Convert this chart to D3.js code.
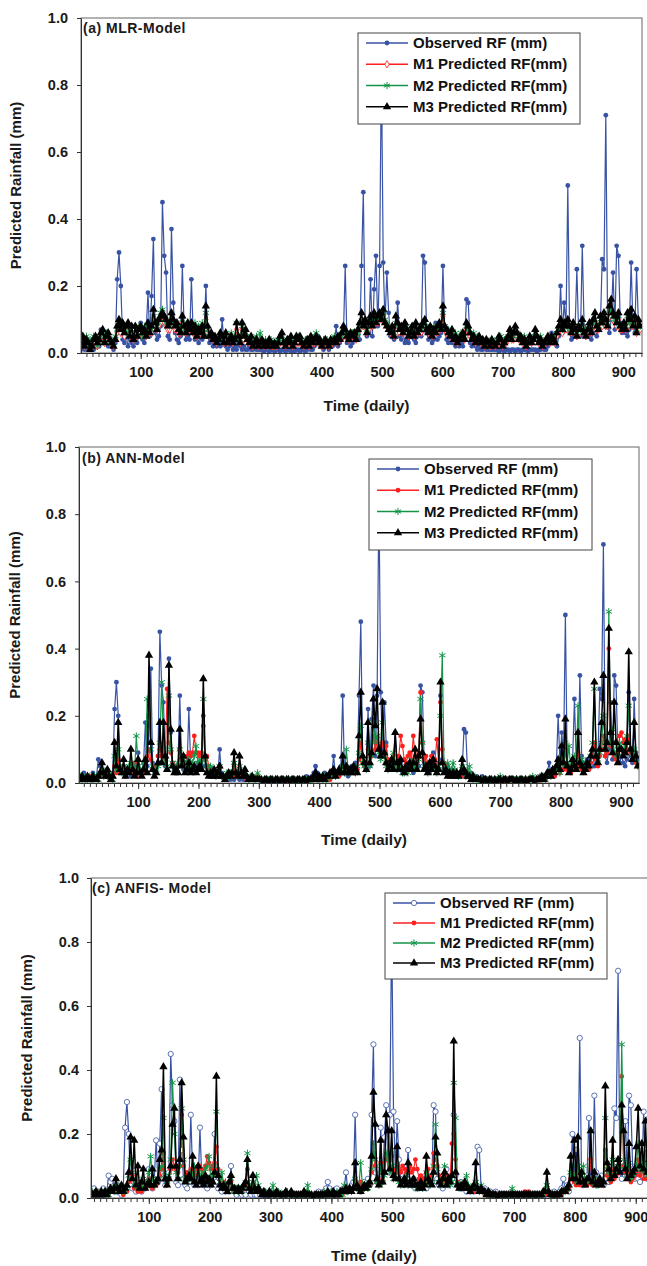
<!DOCTYPE html>
<html>
<head>
<meta charset="utf-8">
<script src="https://cdn.jsdelivr.net/npm/d3@7"></script>
<style>
body { margin: 0; background: #fff; }
text { font-family: "Liberation Sans", Arial, sans-serif; font-weight: bold; }
</style>
</head>
<body>
<script>
//rainfall values in 0.01 mm, one reading every 3 days (day 1, 4, 7 ... 928)
var observed = [
1,2,1,3,2,1,2,1,3,2, 2,7,5,6,3,2,4,2,1,3, 22,30,20,4,3,5,2,4,3,2, 4,3,5,9,4,3,6,18,5,17,
34,6,4,5,8,45,29,24,5,4, 37,15,6,4,3,5,26,7,4,5, 4,22,6,4,5,3,6,4,5,20, 5,3,4,2,3,2,3,2,10,3,
2,1,2,3,1,2,1,3,2,1, 2,1,1,2,1,1,2,1,1,1, 1,0,1,1,0,1,1,0,1,1, 0,1,1,0,1,1,0,1,0,1,
1,0,1,1,0,1,2,1,1,2, 3,5,3,2,1,2,3,1,2,2, 3,8,2,3,4,5,26,3,4,2, 3,5,4,6,4,26,48,8,5,6,
22,5,19,29,8,26,86,27,9,24, 12,5,6,4,7,15,5,4,6,3, 4,3,5,6,4,3,5,6,5,29, 27,6,4,5,3,4,9,4,5,6,
26,7,4,3,5,3,4,2,3,2, 3,2,4,16,15,3,2,3,2,1, 2,1,1,2,1,1,1,1,1,1, 1,0,1,1,0,1,1,0,1,1,
0,1,1,0,1,1,1,0,1,1, 1,1,0,1,1,2,1,1,2,3, 6,3,4,2,5,20,6,15,8,50, 6,4,5,7,25,6,5,32,8,6,
5,7,4,6,9,5,7,8,28,25, 71,8,6,10,24,7,32,29,9,6, 8,6,5,7,27,8,6,25,9,7];

//(a) MLR model predictions
var mlrM1 = [
3,4,2,3,2,3,2,4,3,2, 3,4,5,3,4,4,3,3,2,4, 6,8,6,7,5,7,7,5,6,4, 6,5,6,7,5,6,5,7,6,6,
10,8,7,8,9,11,9,8,7,7, 10,8,7,7,6,6,9,7,6,7, 7,8,6,7,5,7,6,8,6,10, 6,5,5,4,4,3,4,5,4,3,
4,3,4,5,3,4,7,4,3,7, 4,5,4,3,4,2,3,4,2,3, 3,2,3,2,3,3,2,2,2,3, 3,4,3,2,3,3,3,2,3,3,
3,3,3,2,3,3,2,3,3,3, 4,3,3,2,3,3,3,2,3,3, 4,3,4,4,5,6,5,5,4,5, 5,5,4,6,7,9,8,8,6,7,
9,8,9,9,9,10,10,11,9,8, 7,6,7,5,8,7,6,7,6,7, 6,5,6,6,5,7,6,6,6,7, 8,7,6,6,5,7,6,6,7,7,
11,7,6,6,5,5,4,5,3,4, 5,5,4,7,6,5,4,5,3,4, 4,3,3,2,3,3,2,3,3,2, 3,3,4,2,3,3,4,5,4,4,
6,5,4,4,3,4,2,3,4,3, 4,5,4,3,4,2,3,3,4,3, 4,4,3,5,6,8,6,7,7,8, 7,6,7,6,5,7,6,8,6,5,
6,7,6,8,9,7,7,9,8,9, 8,8,11,13,10,9,8,10,7,7, 8,7,10,8,10,8,9,6,8,7];
var mlrM2 = [
5,4,3,5,2,4,3,5,4,2, 3,5,6,4,6,5,3,4,3,5, 7,9,8,7,8,6,8,6,7,5, 7,6,8,7,5,8,6,8,7,7,
11,10,8,9,12,13,10,9,9,8, 11,9,9,8,8,7,10,7,7,8, 8,8,7,9,6,8,7,9,6,12, 7,6,5,5,4,4,5,5,4,4,
5,4,5,6,4,5,9,4,4,8, 6,6,5,4,4,3,4,5,3,6, 3,3,4,3,3,4,3,2,3,4, 4,5,4,3,3,4,4,3,4,4,
5,4,4,3,4,3,3,4,4,5, 6,4,3,3,4,3,4,3,3,4, 5,4,4,5,5,7,6,6,5,5, 6,5,5,6,8,9,9,9,7,8,
10,9,10,10,10,11,11,12,10,9, 8,7,7,6,9,8,8,7,7,8, 8,6,7,7,6,8,7,8,7,8, 9,8,7,7,6,8,7,7,8,8,
12,8,7,7,6,6,5,6,4,5, 6,5,5,8,7,6,5,6,4,5, 4,4,3,3,4,3,3,4,3,3, 4,4,5,3,4,4,5,6,5,5,
7,6,5,5,4,5,3,4,4,4, 5,6,5,4,5,3,3,4,4,4, 5,5,4,6,7,9,7,8,8,9, 7,7,8,7,6,7,7,9,7,6,
7,8,7,9,10,8,8,10,9,10, 9,9,12,13,11,10,9,11,8,8, 8,8,11,9,11,9,10,7,9,8];
var mlrM3 = [
3,5,2,4,3,1,2,4,5,3, 4,6,7,3,5,6,4,3,2,4, 8,10,7,9,6,8,9,5,8,4, 8,5,7,8,6,7,5,9,6,8,
13,9,7,10,11,12,11,10,8,9, 12,10,8,9,7,6,11,8,6,9, 7,9,6,8,5,7,6,8,5,14, 8,5,6,4,5,3,4,6,5,3,
6,3,4,5,3,4,9,5,3,9, 5,7,4,3,5,2,3,4,2,3, 4,2,3,2,4,3,2,3,2,3, 5,6,3,2,4,3,5,2,3,5,
4,5,3,2,3,4,2,5,3,4, 5,3,4,2,3,4,3,2,4,3, 4,3,5,4,6,8,7,5,4,6, 5,6,4,7,9,12,8,10,6,9,
11,8,12,9,11,12,10,13,9,8, 7,6,8,5,11,9,7,8,6,9, 7,5,6,8,5,9,6,7,8,9, 10,7,6,8,5,7,6,8,9,7,
14,8,7,6,5,7,4,5,3,4, 5,6,4,9,8,6,4,5,3,4, 5,3,4,2,4,3,2,4,3,2, 3,5,4,2,3,4,5,7,4,6,
8,6,4,5,3,4,2,3,5,3, 4,7,5,3,4,2,3,4,5,3, 5,4,3,6,8,10,7,9,8,10, 8,6,9,7,5,8,7,10,6,5,
7,9,6,10,12,8,7,11,9,12, 10,8,14,16,12,11,9,12,8,7, 9,7,12,10,13,8,11,6,10,8];

//(b) ANN model predictions
var annM1 = [
1,1,2,1,1,1,1,2,1,1, 1,2,2,3,2,2,3,2,1,2, 5,3,7,3,3,4,2,3,3,4, 3,6,2,4,3,3,4,3,8,10,
7,4,4,5,8,10,8,9,7,28, 12,9,6,5,4,5,10,7,6,6, 8,9,8,9,14,9,9,8,9,17, 7,8,5,4,3,4,2,3,4,2,
2,2,2,3,2,2,5,2,2,4, 2,2,2,1,1,1,1,1,1,2, 1,1,1,0,1,1,0,1,1,1, 1,1,0,1,1,1,0,1,1,1,
1,1,1,0,1,1,1,1,0,1, 1,2,1,1,1,2,1,1,2,1, 2,2,2,3,2,3,5,3,4,3, 3,4,3,4,4,7,12,6,5,4,
10,6,8,14,10,12,11,9,12,8, 11,7,5,6,8,6,5,8,14,11, 7,6,8,9,7,14,8,6,9,27, 12,7,8,6,5,8,6,7,13,6,
24,10,6,5,4,3,3,2,3,2, 2,3,4,2,2,2,3,1,1,1, 1,1,0,1,1,1,0,1,1,0, 1,1,0,1,1,0,1,1,1,1,
0,1,1,1,0,1,1,0,1,1, 1,1,1,1,0,1,1,2,1,2, 2,2,3,2,4,5,3,7,4,10, 4,5,3,5,6,4,9,5,4,3,
4,5,4,6,8,12,7,5,8,10, 14,8,9,40,11,12,8,7,9,14, 15,12,13,10,14,9,7,8,6,5];
var annM2 = [
1,2,1,2,1,1,2,1,1,2, 2,1,3,4,2,3,2,3,2,1, 8,4,10,5,3,5,3,4,5,6, 5,3,14,5,4,3,6,4,25,20,
10,5,3,4,5,12,30,10,6,5, 26,10,6,4,5,6,10,6,7,4, 6,7,5,6,8,11,6,7,6,25, 7,5,3,5,4,3,2,3,5,2,
2,2,3,2,3,2,6,3,2,5, 3,2,3,2,1,2,2,1,1,3, 1,1,1,0,1,1,1,0,1,1, 1,1,0,1,1,0,1,1,1,0,
1,0,1,1,1,0,1,1,0,1, 1,2,1,1,2,1,2,1,2,2, 2,3,2,3,3,4,5,3,10,4, 3,4,4,3,5,9,17,6,5,4,
12,5,8,18,12,14,9,7,18,8, 5,4,6,5,9,5,4,6,5,3, 3,4,3,5,7,5,4,5,7,25, 12,5,4,3,5,6,5,4,3,5,
20,38,4,4,6,3,4,6,4,3, 2,3,5,3,2,3,5,2,1,2, 1,1,1,1,0,1,1,1,0,1, 1,1,1,2,1,1,1,1,1,1,
1,1,1,1,0,1,1,1,1,1, 1,2,1,1,1,2,1,2,1,2, 3,2,3,4,4,6,3,8,5,12, 6,11,4,5,8,6,23,7,7,4,
5,6,5,8,12,28,9,7,9,12, 20,11,10,51,12,16,9,8,10,12, 10,9,11,14,23,10,8,10,7,5];
var annM3 = [
1,1,2,1,1,2,1,1,2,1, 1,2,3,6,3,2,4,2,1,2, 12,5,18,4,3,7,2,4,3,10, 4,2,3,7,3,2,4,7,3,38,
12,4,2,3,6,18,6,18,8,4, 35,16,5,3,4,3,16,5,8,3, 4,6,3,4,5,3,4,5,4,31, 8,3,2,3,2,4,2,3,5,2,
2,1,2,3,2,3,9,3,2,8, 3,2,4,2,1,1,2,1,1,1, 1,1,0,1,1,0,1,1,0,1, 1,0,1,1,0,1,1,0,1,1,
0,1,1,0,1,1,0,1,1,1, 2,3,1,2,1,2,1,2,2,3, 3,4,2,3,4,3,8,3,5,3, 4,3,5,4,3,14,27,8,6,4,
18,6,9,25,17,28,10,8,24,9, 6,4,5,7,4,15,6,4,7,4, 3,5,4,6,4,6,10,4,8,19, 9,4,5,3,6,4,7,5,3,4,
30,6,3,4,2,3,2,3,2,3, 2,3,7,4,3,2,2,1,2,1, 1,1,1,0,1,1,0,1,1,0, 1,0,1,1,0,1,1,0,1,1,
1,0,1,0,1,1,0,1,0,1, 1,1,0,1,1,1,2,1,2,3, 3,2,4,3,5,7,4,11,6,19, 5,3,4,7,5,4,15,6,5,3,
4,6,5,8,10,30,8,6,10,18, 32,10,12,46,15,9,24,12,6,10, 10,8,9,12,39,10,7,18,8,5];

//(c) ANFIS model predictions
var anfisM1 = [
1,2,1,1,1,1,2,1,1,1, 1,1,2,2,2,3,2,2,2,1, 2,2,5,8,7,3,5,2,3,2, 5,3,4,6,6,3,4,4,5,7,
9,14,6,4,6,9,12,10,9,8, 10,26,10,6,8,7,9,8,9,7, 9,10,9,8,10,13,11,9,10,11, 16,9,6,4,5,4,3,4,5,3,
2,2,3,2,2,3,4,9,3,2, 4,3,3,2,2,2,1,1,1,1, 1,1,1,1,1,1,1,1,1,1, 1,1,1,1,1,1,1,1,2,2,
2,1,1,1,1,1,1,1,1,1, 1,1,1,1,1,1,1,1,1,1, 2,2,2,2,2,3,5,3,4,5, 3,3,3,4,4,8,14,10,5,4,
11,6,8,12,12,10,13,8,9,8, 9,8,10,9,8,9,10,8,9,12, 9,6,7,6,5,8,9,6,7,14, 12,10,7,6,5,6,5,7,6,17,
20,12,5,4,3,3,3,4,3,2, 2,2,4,3,2,2,2,1,1,1, 1,1,1,1,1,1,1,1,1,1, 1,1,1,1,1,1,1,1,1,2,
1,2,1,1,1,1,1,1,1,1, 1,2,1,1,1,1,1,1,1,1, 2,2,2,3,6,8,5,4,9,4, 5,6,4,4,5,12,4,6,4,4,
5,4,5,15,7,6,5,9,6,7, 8,8,38,10,8,6,9,5,6,7, 8,12,7,10,6,11,6,8,7,6];
var anfisM2 = [
2,1,2,1,1,2,1,2,1,1, 2,1,2,3,2,4,2,3,2,2, 2,3,7,12,8,4,6,3,4,3, 6,4,5,8,13,6,4,5,6,9,
10,25,7,5,7,12,36,20,8,6, 10,28,12,6,5,6,8,7,10,5, 8,7,6,8,9,10,13,6,7,10, 27,8,5,8,4,5,3,4,6,3,
2,3,2,3,2,3,5,14,4,3, 5,3,7,4,2,2,1,2,1,2, 2,4,1,2,2,1,1,1,1,2, 1,1,1,1,1,1,1,1,1,1,
4,1,1,1,1,1,1,1,1,2, 1,2,1,2,1,1,2,1,2,1, 4,2,2,3,2,3,6,3,3,11, 4,3,4,3,5,9,17,12,5,4,
10,5,7,14,12,8,14,6,7,10, 5,4,5,6,7,4,5,4,5,4, 3,4,4,3,4,8,5,4,5,10, 23,9,5,4,6,10,5,5,4,5,
36,25,5,4,3,4,5,7,4,3, 3,3,5,3,2,4,2,2,1,2, 1,1,1,1,1,1,1,1,1,1, 1,1,3,1,1,1,1,1,1,1,
1,1,1,1,1,1,1,1,1,1, 2,4,2,1,1,1,1,1,1,2, 2,2,3,3,8,10,7,5,10,5, 6,10,5,5,6,21,5,6,4,4,
6,5,5,25,9,8,6,12,8,9, 10,9,48,12,10,7,11,6,7,8, 10,17,9,12,8,14,7,9,8,7];
var anfisM3 = [
1,2,1,1,2,1,1,2,1,2, 1,2,3,2,3,6,3,2,4,2, 3,4,8,19,6,18,4,10,3,5, 9,3,4,5,4,9,4,5,6,12,
15,41,6,4,6,10,23,28,10,6, 12,36,19,5,6,7,6,13,5,4, 10,5,6,4,7,5,6,4,5,8, 38,7,4,3,4,3,2,5,7,3,
3,2,3,2,3,4,5,12,3,2, 7,3,2,3,2,1,2,1,1,2, 1,1,1,2,1,1,1,1,2,1, 1,2,1,1,1,1,1,1,2,1,
1,1,1,0,1,1,1,1,1,1, 1,2,1,1,2,1,1,1,2,2, 2,3,2,3,2,3,11,4,3,2, 3,4,3,4,5,13,33,23,6,4,
18,5,8,26,21,9,21,7,6,16, 6,4,5,6,4,11,5,4,6,4, 4,3,5,3,4,13,6,5,4,8, 19,14,5,4,6,8,4,6,5,7,
49,8,4,3,4,3,5,4,3,2, 3,4,11,3,2,3,2,2,1,2, 1,1,1,1,0,1,1,1,1,1, 1,1,1,1,1,1,1,1,1,1,
1,1,1,1,1,1,1,1,1,2, 2,8,2,1,1,1,1,1,1,2, 2,2,3,4,13,6,18,6,19,5, 8,5,4,6,6,21,5,8,4,5,
6,4,5,35,11,9,6,18,7,9, 12,8,29,21,9,6,17,7,8,9, 16,28,10,17,9,24,8,12,10,9];

var seriesNames = ["Observed RF (mm)", "M1 Predicted RF(mm)", "M2 Predicted RF(mm)", "M3 Predicted RF(mm)"];
var panelTitles = ["(a) MLR-Model", "(b) ANN-Model", "(c) ANFIS- Model"];
var xTickValues = [100, 200, 300, 400, 500, 600, 700, 800, 900];
var yTickValues = [0, 0.2, 0.4, 0.6, 0.8, 1.0];

var w = 647;
var h = 1266;
var step = 3; //days between readings

var colors = ["#3953a4", "#ff1f1f", "#139447", "#000000"];
var lineWidths = [1.2, 1.1, 1.2, 1.5];

//marker shapes
var symbols = {
    dot: {d: d3.symbol(d3.symbolCircle, 18)(), fill: true},
    ring: {d: d3.symbol(d3.symbolCircle, 22)(), fill: false, bg: "#fff"},
    diamond: {d: d3.symbol(d3.symbolDiamond, 16)(), fill: false, bg: "#fff"},
    star: {d: d3.symbol(d3.symbolAsterisk, 36)(), fill: false, bg: "none"},
    triangle: {d: d3.symbol(d3.symbolTriangle, 30)(), fill: true}
};

//layout of the three panels
var panels = [
    {title: panelTitles[0], series: [observed, mlrM1, mlrM2, mlrM3], markers: ["dot", "diamond", "star", "triangle"],
     left: 81, right: 642, top: 18, bottom: 353, firstDay: 1, lastDay: 931,
     legend: [358, 33, 222, 91], titleX: 83, titleY: 33, yLabelX: 21, yTickPad: 9, xLabelY: 411},
    {title: panelTitles[1], series: [observed, annM1, annM2, annM3], markers: ["dot", "dot", "star", "triangle"],
     left: 79, right: 639, top: 447, bottom: 783, firstDay: 2, lastDay: 930,
     legend: [369, 459, 223, 91], titleX: 82, titleY: 463, yLabelX: 20, yTickPad: 9, xLabelY: 845},
    {title: panelTitles[2], series: [observed, anfisM1, anfisM2, anfisM3], markers: ["ring", "dot", "star", "triangle"],
     left: 91, right: 654, top: 878, bottom: 1198, firstDay: 5, lastDay: 930,
     legend: [385, 893, 222, 86], titleX: 92, titleY: 893, yLabelX: 32, yTickPad: 8, xLabelY: 1261}
];

var svg = d3.select("body")
            .append("svg")
            .attr("width", w)
            .attr("height", h);

function drawMarker(sel, type, color) {
    var s = symbols[type];
    sel.attr("d", s.d)
       .attr("fill", s.fill ? color : s.bg)
       .attr("stroke", s.fill ? "none" : color)
       .attr("stroke-width", type === "star" ? 1 : 0.8);
}

panels.forEach(function(p, pi) {
    var x = d3.scaleLinear().domain([p.firstDay, p.lastDay]).range([p.left, p.right]);
    var y = d3.scaleLinear().domain([0, 1]).range([p.bottom, p.top]);

    var g = svg.append("g");

    //plot frame
    g.append("rect")
     .attr("x", p.left).attr("y", p.top)
     .attr("width", p.right - p.left).attr("height", p.bottom - p.top)
     .attr("fill", "none").attr("stroke", "#666").attr("stroke-width", 1);

    g.append("clipPath").attr("id", "clip" + pi)
     .append("rect")
     .attr("x", p.left).attr("y", p.top)
     .attr("width", p.right - p.left).attr("height", p.bottom - p.top);

    var plot = g.append("g").attr("clip-path", "url(#clip" + pi + ")");

    var line = d3.line()
                 .x(function(d) { return x(d.day); })
                 .y(function(d) { return y(d.v); });

    //draw the four series, observed first so the models sit on top
    p.series.forEach(function(values, si) {
        var pts = values.map(function(v, i) { return {day: 1 + step * i, v: v / 100}; });
        plot.append("path")
            .datum(pts)
            .attr("fill", "none")
            .attr("stroke", colors[si])
            .attr("stroke-width", lineWidths[si])
            .attr("d", line);
        plot.append("g")
            .selectAll("path")
            .data(pts)
            .enter()
            .append("path")
            .attr("transform", function(d) { return "translate(" + x(d.day) + "," + y(d.v) + ")"; })
            .call(drawMarker, p.markers[si], colors[si]);
    });

    //x axis: labelled ticks every 100 days, small ticks every 10
    g.append("g")
     .attr("transform", "translate(0," + p.bottom + ")")
     .call(d3.axisBottom(x).tickValues(d3.range(10, p.lastDay, 10)).tickSize(4).tickSizeOuter(0).tickFormat(""));
    var xAxis = g.append("g")
     .attr("transform", "translate(0," + p.bottom + ")")
     .call(d3.axisBottom(x).tickValues(xTickValues).tickSize(6).tickSizeOuter(0).tickPadding(8));

    var yAxis = g.append("g")
     .attr("transform", "translate(" + p.left + ",0)")
     .call(d3.axisLeft(y).tickValues(yTickValues).tickSize(4).tickSizeOuter(0).tickPadding(p.yTickPad).tickFormat(d3.format(".1f")));

    g.selectAll(".domain").attr("stroke", "#333");
    g.selectAll(".tick line").attr("stroke", "#333");
    [xAxis, yAxis].forEach(function(a) {
        a.attr("font-family", null).attr("font-size", null);
        a.selectAll("text").attr("fill", "#1a1a1a").style("font-size", "14.5px");
    });

    //axis titles
    g.append("text")
     .attr("x", (p.left + Math.min(p.right, w)) / 2 + 5)
     .attr("y", p.xLabelY)
     .attr("text-anchor", "middle")
     .style("font-size", "15.5px")
     .attr("fill", "#1a1a1a")
     .text("Time (daily)");

    g.append("text")
     .attr("transform", "translate(" + p.yLabelX + "," + ((p.top + p.bottom) / 2) + ") rotate(-90)")
     .attr("text-anchor", "middle")
     .style("font-size", "15px")
     .attr("fill", "#1a1a1a")
     .text("Predicted Rainfall (mm)");

    //panel title
    g.append("text")
     .attr("x", p.titleX)
     .attr("y", p.titleY)
     .style("font-size", "14px")
     .style("letter-spacing", "0.5px")
     .attr("fill", "#1a1a1a")
     .text(p.title);

    //legend
    var lg = g.append("g");
    lg.append("rect")
      .attr("x", p.legend[0]).attr("y", p.legend[1])
      .attr("width", p.legend[2]).attr("height", p.legend[3])
      .attr("fill", "#fff").attr("stroke", "#444").attr("stroke-width", 1);
    var rowH = (p.legend[3] - 6) / 4;
    seriesNames.forEach(function(name, si) {
        var ry = p.legend[1] + 10 + rowH * si;
        var lx = p.legend[0] + 8;
        lg.append("line")
          .attr("x1", lx).attr("x2", lx + 42)
          .attr("y1", ry).attr("y2", ry)
          .attr("stroke", colors[si]).attr("stroke-width", 1.3);
        lg.append("path")
          .attr("transform", "translate(" + (lx + 21) + "," + ry + ")")
          .call(drawMarker, p.markers[si], colors[si]);
        lg.append("text")
          .attr("x", lx + 47)
          .attr("y", ry + 5)
          .style("font-size", "15px")
          .attr("fill", "#111")
          .text(name);
    });
});
</script>
</body>
</html>
